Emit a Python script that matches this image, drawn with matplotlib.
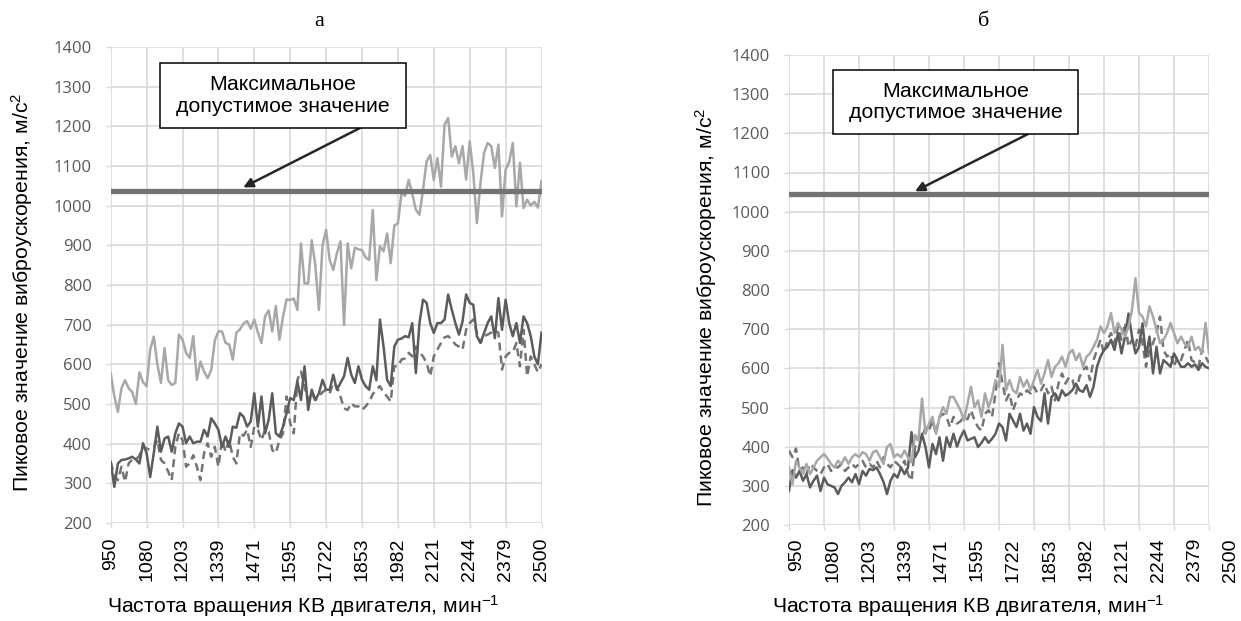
import matplotlib
matplotlib.use("Agg")
import numpy as np
import matplotlib.pyplot as plt
import matplotlib.transforms as mtrans
from matplotlib.patches import Rectangle

plt.rcParams['font.family'] = ['Liberation Sans', 'DejaVu Sans']
plt.rcParams['mathtext.default'] = 'regular'

# x-axis labels (engine speed, rpm), one label every 10 measurements
rpm_labels = ['950', '1080', '1203', '1339', '1471', '1595', '1722',
              '1853', '1982', '2121', '2244', '2379', '2500']

# chart "а" - peak vibration acceleration, m/s^2
a_light = [578, 520, 480, 540, 560, 540, 530, 500, 580, 555,
           545, 637, 670, 600, 553, 641, 560, 548, 553, 675,
           662, 629, 616, 671, 561, 607, 582, 565, 586, 660,
           683, 683, 654, 650, 612, 680, 688, 703, 709, 690,
           713, 680, 654, 721, 736, 683, 747, 662, 720, 764,
           762, 766, 737, 905, 804, 804, 913, 850, 737, 900,
           939, 863, 838, 880, 910, 699, 905, 842, 894, 890,
           888, 870, 863, 989, 812, 898, 885, 930, 855, 950,
           955, 1031, 1025, 1065, 1030, 990, 977, 1040, 1112, 1128,
           1065, 1120, 1048, 1204, 1221, 1124, 1150, 1107, 1150, 1066,
           1162, 1082, 956, 1057, 1133, 1158, 1150, 1095, 1154, 973,
           1091, 1110, 1158, 998, 1108, 994, 1015, 1000, 1010, 995, 1062]
a_dark = [354, 291, 350, 359, 360, 363, 367, 360, 350, 401,
          376, 316, 376, 443, 380, 413, 418, 380, 426, 451,
          443, 401, 418, 401, 405, 405, 435, 418, 464, 451,
          435, 392, 418, 392, 443, 440, 477, 468, 443, 456,
          527, 443, 519, 426, 460, 527, 426, 418, 443, 477,
          515, 510, 557, 510, 595, 485, 536, 510, 527, 561,
          536, 536, 574, 536, 553, 570, 616, 574, 553, 595,
          561, 545, 536, 595, 560, 713, 645, 561, 545, 645,
          662, 665, 671, 668, 704, 578, 704, 763, 755, 704,
          679, 704, 704, 713, 776, 738, 704, 675, 708, 776,
          755, 750, 671, 654, 679, 704, 721, 666, 767, 687,
          763, 704, 671, 704, 654, 721, 704, 671, 620, 600, 680]
a_dash = [354, 320, 308, 342, 304, 350, 360, 359, 370, 392,
          388, 384, 390, 409, 359, 350, 330, 308, 392, 426,
          409, 342, 350, 371, 342, 308, 376, 401, 367, 392,
          342, 409, 380, 409, 367, 350, 426, 420, 435, 392,
          443, 435, 409, 435, 430, 384, 376, 409, 426, 519,
          451, 426, 561, 582, 544, 510, 527, 510, 519, 530,
          536, 527, 553, 544, 519, 489, 485, 502, 494, 494,
          485, 494, 505, 525, 536, 545, 528, 519, 506, 595,
          595, 612, 615, 629, 620, 645, 630, 620, 603, 570,
          620, 637, 654, 668, 671, 662, 650, 645, 637, 687,
          704, 713, 679, 654, 671, 675, 680, 687, 679, 587,
          620, 629, 630, 654, 595, 687, 570, 620, 600, 580, 600]
a_limit = 1036

# chart "б"
b_dark = [287, 340, 321, 338, 313, 330, 296, 313, 326, 287,
          321, 304, 300, 296, 279, 300, 309, 321, 309, 330,
          304, 338, 326, 343, 340, 347, 330, 310, 279, 313,
          330, 321, 347, 330, 347, 437, 373, 390, 433, 399,
          347, 407, 381, 424, 364, 424, 399, 433, 400, 424,
          441, 416, 420, 424, 399, 410, 424, 410, 420, 433,
          459, 450, 416, 484, 467, 450, 484, 441, 459, 433,
          501, 476, 465, 536, 459, 527, 536, 518, 544, 530,
          536, 545, 561, 544, 540, 557, 527, 553, 604, 630,
          647, 655, 673, 647, 690, 638, 681, 740, 681, 638,
          655, 715, 630, 681, 587, 655, 587, 621, 613, 604,
          638, 621, 604, 604, 613, 604, 610, 596, 613, 604, 600]
b_light = [347, 304, 364, 347, 330, 356, 330, 347, 364, 373,
           381, 370, 356, 347, 364, 356, 373, 356, 373, 381,
           373, 386, 381, 364, 386, 390, 373, 356, 399, 407,
           373, 381, 373, 390, 373, 360, 430, 416, 523, 433,
           459, 476, 433, 476, 501, 484, 527, 527, 510, 493,
           467, 510, 553, 501, 518, 476, 536, 501, 527, 570,
           553, 660, 544, 570, 544, 536, 578, 553, 570, 544,
           570, 596, 561, 587, 621, 578, 604, 613, 630, 604,
           638, 647, 621, 638, 604, 630, 638, 655, 673, 707,
           690, 707, 741, 690, 716, 699, 681, 707, 749, 830,
           741, 732, 707, 758, 732, 699, 664, 673, 690, 716,
           690, 664, 681, 664, 655, 681, 647, 655, 638, 716, 638]
b_dash = [390, 373, 395, 338, 347, 330, 356, 347, 338, 330,
          347, 356, 338, 347, 347, 356, 338, 347, 356, 347,
          356, 364, 347, 356, 347, 364, 347, 373, 356, 347,
          364, 356, 347, 364, 330, 313, 399, 424, 420, 450,
          441, 467, 433, 476, 484, 476, 450, 476, 459, 465,
          476, 470, 493, 467, 450, 441, 484, 493, 476, 536,
          613, 561, 518, 536, 493, 518, 536, 530, 544, 536,
          553, 536, 544, 561, 536, 553, 518, 561, 587, 561,
          578, 570, 536, 578, 596, 604, 570, 621, 647, 673,
          638, 673, 690, 664, 707, 673, 716, 655, 673, 655,
          699, 664, 604, 647, 664, 690, 732, 647, 630, 638,
          604, 630, 621, 647, 673, 621, 615, 604, 647, 630, 613]
b_limit = 1044

W, H = 1241, 621
fig = plt.figure(figsize=(W / 100, H / 100), dpi=100)
fig.patch.set_facecolor('white')

GRID = '#d9d9d9'
ylab = 'Пиковое значение виброускорения, м/с$^2$'
xlab = 'Частота вращения КВ двигателя, мин$^{-1}$'
TICK_X = 14
LABEL = 15.3


def style(ax, n):
    ax.set_xlim(0, n - 1)
    ax.set_ylim(200, 1400)
    ax.set_yticks(np.arange(200, 1401, 100))
    ax.set_xticks(np.arange(0, n, 10))
    ax.grid(True, color=GRID, lw=1.2)
    ax.set_axisbelow(True)
    for s in ax.spines.values():
        s.set_visible(False)
    ax.tick_params(axis='y', length=3.6, width=1, color=GRID, pad=10,
                   labelsize=12, labelcolor='#595959')
    for t in ax.get_yticklabels():
        t.set_fontfamily('Open Sans')
    ax.tick_params(axis='x', length=3.6, width=1, color=GRID, pad=7,
                   labelsize=TICK_X, labelrotation=90)


def draw(ax, light, dark, dash, limit):
    x = np.arange(len(light))
    ax.plot(x, dash, color='#747474', lw=1.8, dashes=(3.2, 2))
    ax.plot(x, dark, color='#5c5c5c', lw=1.8)
    ax.plot(x, light, color='#a8a8a8', lw=1.8)
    ax.axhline(limit, color='#737373', lw=3.8)


# --- chart а ---
axA = fig.add_axes([110.7 / W, (H - 523) / H, 430.8 / W, 476 / H])
draw(axA, a_light, a_dark, a_dash, a_limit)
style(axA, len(a_light))
axA.set_xticklabels(rpm_labels)
axA.set_ylabel(ylab, fontsize=LABEL)
axA.yaxis.set_label_coords(-0.176, 0.485)
axA.set_xlabel(xlab, fontsize=LABEL)
axA.xaxis.set_label_coords(0.446, -0.148)

# --- chart б ---
axB = fig.add_axes([789 / W, (H - 525) / H, 420 / W, 470 / H])
draw(axB, b_light, b_dark, b_dash, b_limit)
style(axB, len(b_light))
axB.set_xticklabels([])
# labels in this panel are spaced a bit wider than the grid
lab_pos = [2.1 + 10.34 * i for i in range(13)]
axB.set_xticks(lab_pos[:12], rpm_labels[:12], minor=True)
axB.tick_params(axis='x', which='minor', length=0, pad=9.4,
                labelsize=TICK_X, labelrotation=90)
tr = mtrans.blended_transform_factory(axB.transData, axB.transAxes)
axB.text(lab_pos[12], -13 / 470, rpm_labels[12], transform=tr, rotation=90,
         ha='center', va='top', fontsize=TICK_X, clip_on=False)
axB.set_ylabel(ylab, fontsize=LABEL)
axB.yaxis.set_label_coords(-0.166, 0.463)
axB.set_xlabel(xlab, fontsize=LABEL)
axB.xaxis.set_label_coords(0.426, -0.145)

# panel letters
fig.text(319 / W, 1 - 22 / H, 'а', family='Liberation Serif', fontsize=16,
         ha='center', va='center')
fig.text(984 / W, 1 - 21 / H, 'б', family='Liberation Serif', fontsize=16,
         ha='center', va='center')

# callout boxes with arrows to the limit line
note = 'Максимальное\nдопустимое значение'
for ax, box, tip, tail in [
        (axA, (160, 63, 406, 128), (36.9, a_limit + 10), (360, 128)),
        (axB, (833, 70, 1078, 134), (36.0, b_limit + 8), (1028, 134))]:
    x0, y0, x1, y1 = box
    fig.patches.append(Rectangle((x0 / W, 1 - y1 / H), (x1 - x0) / W,
                                 (y1 - y0) / H, transform=fig.transFigure,
                                 facecolor='white', edgecolor='black',
                                 lw=1.1, zorder=5))
    fig.text((x0 + x1) / 2 / W, 1 - (y0 + y1) / 2 / H, note, fontsize=15.3,
             ha='center', va='center', linespacing=1.15, zorder=6)
    ax.annotate('', xy=tip, xycoords='data',
                xytext=(tail[0] / W, 1 - tail[1] / H),
                textcoords='figure fraction',
                arrowprops=dict(arrowstyle='-|>', color='#262626', lw=1.8,
                                mutation_scale=14, shrinkA=0, shrinkB=0),
                annotation_clip=False)

fig.savefig('out.png', dpi=100)
